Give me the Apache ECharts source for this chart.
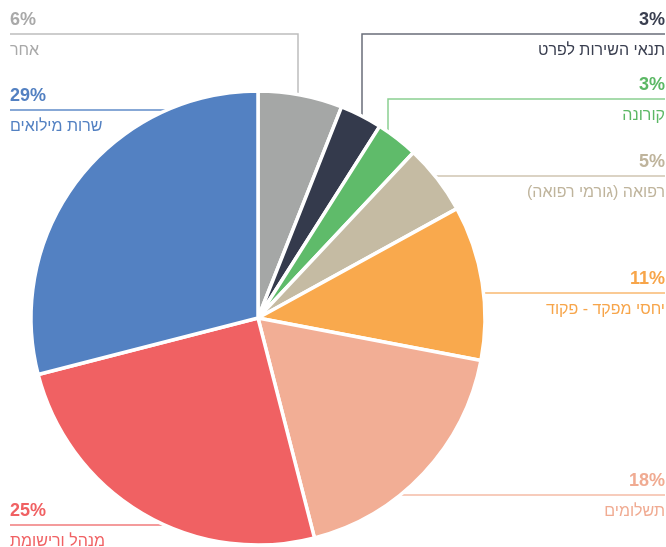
<!DOCTYPE html>
<html>
<head>
<meta charset="utf-8">
<script src="https://cdn.jsdelivr.net/npm/echarts@6/dist/echarts.min.js"></script>
<style>
  html, body { margin: 0; background: #fff; }
  #chart { width: 666px; height: 547px; }
</style>
</head>
<body>
<div id="chart"></div>
<script>
// data, clockwise from 12 o'clock
const categories = ['אחר', 'תנאי השירות לפרט', 'קורונה', 'רפואה (גורמי רפואה)', 'יחסי מפקד - פקוד', 'תשלומים', 'מנהל ורישומת', 'שרות מילואים'];
const shares = [6, 3, 3, 5, 11, 18, 25, 29];

const sliceColors = ['#a5a7a6', '#343a4c', '#5fbb6a', '#c5bba3', '#f9a94d', '#f2ae95', '#f06163', '#5381c2'];
const textColors = ['#a9a9a9', '#3a3f50', '#5cb865', '#bfb49c', '#f7a54a', '#f0ab92', '#f06163', '#5381c2'];
const lineColors = ['#bdbdbd', '#6a6e7a', '#8bd091', '#cfc5b0', '#f9b870', '#f4bba6', '#f07a7b', '#5f8bc8'];

// label placement: side, y of the rule, x of the vertical leg (if any)
const labelSide = ['left', 'right', 'right', 'right', 'right', 'right', 'left', 'left'];
const ruleY = [34, 34, 99, 176, 293, 495, 525, 110];
const elbowX = [298, 362, 388, null, null, null, null, null];

const CX = 258, CY = 318, R = 227;
const LEFT_X = 10, RIGHT_X = 665;

const chart = echarts.init(document.getElementById('chart'));

chart.setOption({
  animation: false,
  series: [
    {
      type: 'pie',
      center: [CX, CY],
      radius: R,
      startAngle: 90,
      clockwise: true,
      silent: true,
      itemStyle: { borderColor: '#fff', borderWidth: 3.5 },
      label: {
        show: true,
        overflow: 'none',
        width: 300,
        formatter: (p) => '{p|' + p.value + '%}\n{n|\u200F' + p.name + '\u200F}',
        rich: {
          p: { fontFamily: 'Liberation Sans', fontWeight: 'bold', fontSize: 18, lineHeight: 34 },
          n: { fontFamily: 'Liberation Sans', fontSize: 16, lineHeight: 28 },
        },
      },
      labelLine: { show: true, smooth: false, lineStyle: { width: 1.5 } },
      labelLayout: (params) => {
        const i = params.dataIndex;
        const side = labelSide[i];
        const y = ruleY[i];
        const endX = side === 'left' ? LEFT_X : RIGHT_X;
        let pts;
        if (elbowX[i] != null) {
          const dx = elbowX[i] - CX;
          const arcY = CY - Math.sqrt(R * R - dx * dx);
          pts = [[elbowX[i], arcY], [elbowX[i], y], [endX, y]];
        } else {
          const dy = y - CY;
          const dx = Math.sqrt(R * R - dy * dy);
          const arcX = side === 'left' ? CX - dx : CX + dx;
          pts = [[arcX, y], [endX, y]];
        }
        return { x: endX, y: y, align: side, verticalAlign: 'middle', labelLinePoints: pts };
      },
      data: categories.map((name, i) => ({
        name: name,
        value: shares[i],
        itemStyle: { color: sliceColors[i] },
        label: { color: textColors[i] },
        labelLine: { lineStyle: { color: lineColors[i] } },
      })),
    },
  ],
});
</script>
</body>
</html>
